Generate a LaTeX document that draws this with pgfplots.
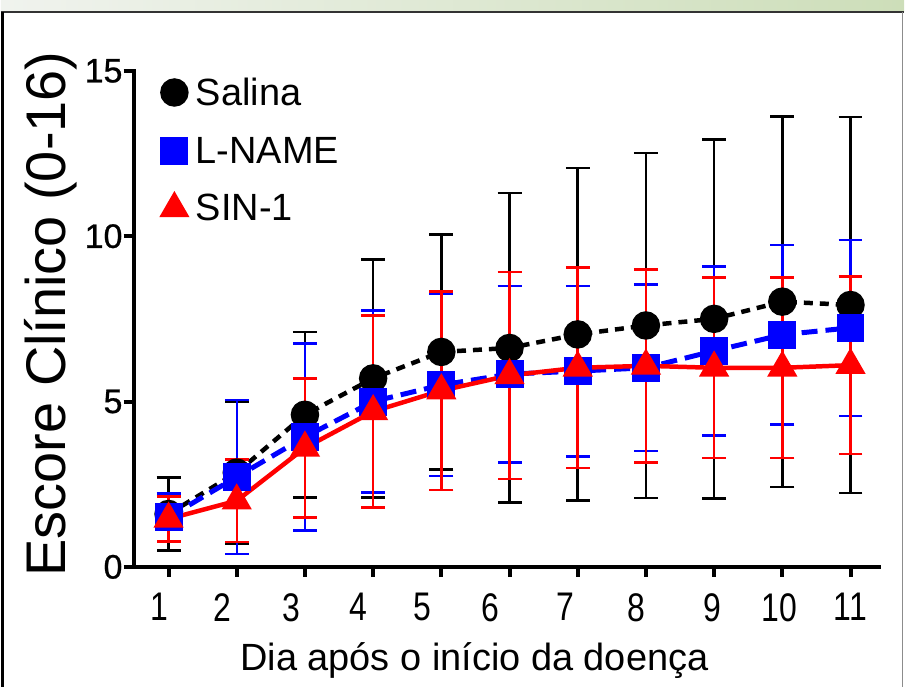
\documentclass[border=0pt]{standalone}
\usepackage{pgfplots}
\pgfplotsset{compat=1.18}
\usepackage{fontspec}
\setmainfont{Liberation Sans}
\newfontfamily\narrowfont[FakeStretch=0.8]{Liberation Sans}
\newfontfamily\semifont[FakeBold=0.8]{Liberation Sans}
\definecolor{pblue}{RGB}{0,0,255}
\definecolor{pred}{RGB}{255,0,0}
\definecolor{stripL}{RGB}{240,243,238}
\definecolor{stripM}{RGB}{236,246,226}
\definecolor{stripR}{RGB}{205,222,185}
\begin{document}
\begin{tikzpicture}[x=1pt,y=1pt]
\fill[white] (0,0) rectangle (905,688);
\shade[left color=stripL, middle color=stripM, right color=stripR] (0,676) rectangle (905,688);
\draw[line width=1.8pt, black!80] (0,676) -- (905,676);
\draw[line width=2.5pt, black] (1.5,0) -- (1.5,676);
\draw[line width=1pt, black!45] (903.5,0) -- (903.5,676);
\begin{axis}[
  at={(133pt,120pt)}, anchor=south west,
  scale only axis, width=747pt, height=497pt,
  xmin=0.488, xmax=11.42, ymin=0, ymax=15,
  clip=false,
  axis lines*=left,
  axis line style={line width=4pt, line cap=rect},
  xtick={1,2,3,4,5,6,7,8,9,10,11},
  xticklabels={{1\kern18pt},{2\kern28pt},{3\kern28pt},{4\kern30pt},{5\kern38pt},{6\kern38pt},{7\kern24pt},{8\kern20pt},{9\kern4pt},{10\kern6pt},{11}},
  ytick={0,5,10,15},
  tick align=outside,
  major tick length=10pt,
  tick style={line width=4pt, black},
  /pgf/number format/assume math mode=true,
  xticklabel style={font=\narrowfont\fontsize{40}{40}\selectfont, yshift=-13pt},
  yticklabel style={font=\semifont\fontsize{34}{34}\selectfont, inner xsep=1pt},
  xlabel={Dia após o início da doença},
  xlabel style={font=\fontsize{38}{38}\selectfont, at={(axis description cs:0.457,-0.209)}, anchor=base},
  ylabel={Escore Clínico (0-16)},
  ylabel style={font=\fontsize{56}{56}\selectfont, at={(axis description cs:-0.091,0.510)}, anchor=base, rotate=0},
  legend style={draw=none, fill=none, at={(axis description cs:0.035,0.99)}, anchor=north west,
    font=\fontsize{38}{38}\selectfont, row sep=26pt, inner sep=0pt},
  legend cell align=left,
  legend image code/.code={\path[#1] plot coordinates {(0pt,0pt)}; \path (-12pt,0pt) (17pt,0pt);},
  error bars/error bar style={solid, line width=2.5pt},
  error bars/error mark options={solid, rotate=90, mark size=12pt, line width=2.5pt},
]
\addplot[black, line width=4.5pt, dash pattern=on 9pt off 7pt,
  mark=*, mark size=12pt, mark options={solid},
  error bars/.cd, y dir=both, y explicit]
coordinates {
(1,1.6) +- (0,1.1)
(2,2.85) +- (0,2.15)
(3,4.6) +- (0,2.5)
(4,5.7) +- (0,3.6)
(5,6.5) +- (0,3.55)
(6,6.62) +- (0,4.68)
(7,7.03) +- (0,5.03)
(8,7.3) +- (0,5.22)
(9,7.5) +- (0,5.43)
(10,8.02) +- (0,5.6)
(11,7.92) +- (0,5.68)
};
\addlegendentry{Salina}
\addplot[pblue, line width=5pt, dash pattern=on 16pt off 8pt,
  mark=square*, mark size=11.5pt, mark options={solid},
  error bars/.cd, y dir=both, y explicit]
coordinates {
(1,1.5) +- (0,0.72)
(2,2.72) +- (0,2.33)
(3,3.93) +- (0,2.83)
(4,5.0) +- (0,2.75)
(5,5.5) +- (0,2.75)
(6,5.83) +- (0,2.67)
(7,5.92) +- (0,2.58)
(8,6.02) +- (0,2.52)
(9,6.53) +- (0,2.56)
(10,7.02) +- (0,2.71)
(11,7.23) +- (0,2.66)
};
\addlegendentry{L-NAME}
\addplot[pred, line width=4.5pt,
  mark=triangle*, mark size=13pt, mark options={solid},
  error bars/.cd, y dir=both, y explicit]
coordinates {
(1,1.45) +- (0,0.68)
(2,2.0) +- (0,1.25)
(3,3.6) +- (0,2.1)
(4,4.7) +- (0,2.9)
(5,5.33) +- (0,3.0)
(6,5.79) +- (0,3.13)
(7,6.02) +- (0,3.03)
(8,6.08) +- (0,2.92)
(9,6.02) +- (0,2.73)
(10,6.02) +- (0,2.73)
(11,6.1) +- (0,2.68)
};
\addlegendentry{SIN-1}
\end{axis}
\end{tikzpicture}
\end{document}
